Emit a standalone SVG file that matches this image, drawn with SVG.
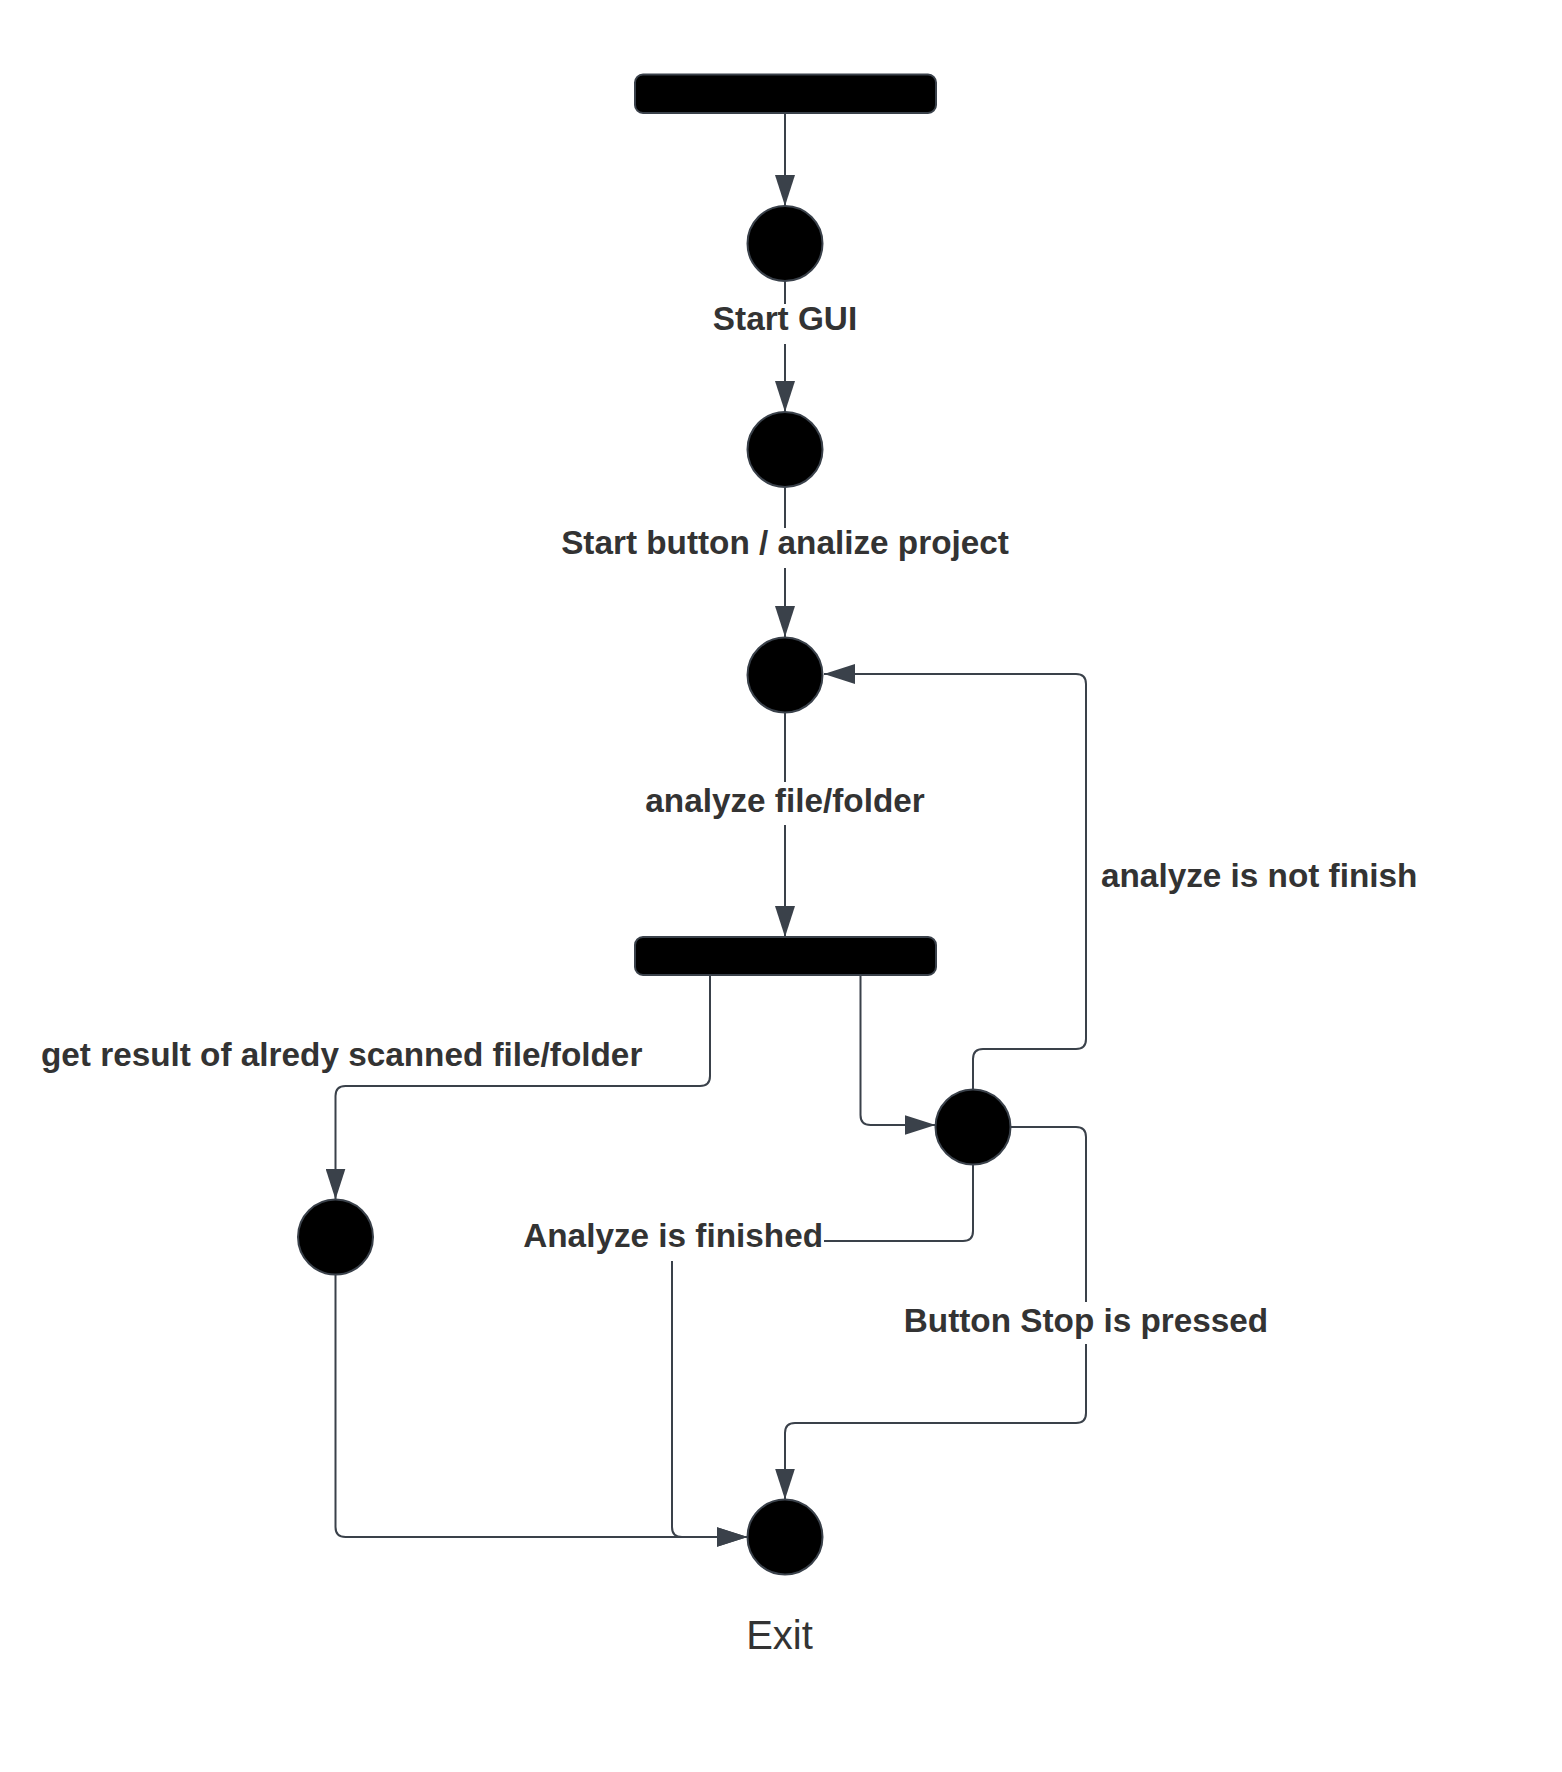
<svg xmlns="http://www.w3.org/2000/svg" width="1562" height="1772" viewBox="0 0 1562 1772">
<defs>
<marker id="arr" markerUnits="userSpaceOnUse" markerWidth="32" markerHeight="20" refX="31" refY="10" orient="auto">
<path d="M0,0 L31,10 L0,20 Z" fill="#3a414a"/>
</marker>
<style>
.node{fill:#000000;stroke:#3a414a;stroke-width:2}
.conn{fill:none;stroke:#3a414a;stroke-width:2}
.lbl{font-family:"Liberation Sans",Arial,sans-serif;font-weight:bold;font-size:33.3px;fill:#333333}
.exit{font-family:"Liberation Sans",Arial,sans-serif;font-size:40px;fill:#333333}
</style>
</defs>
<rect width="1562" height="1772" fill="#ffffff"/>
<g id="connectors">
<path class="conn" d="M785 113 V206" marker-end="url(#arr)"/>
<path class="conn" d="M785 281 V304 M785 344 V412" marker-end="url(#arr)"/>
<path class="conn" d="M785 487.5 V528 M785 568 V637" marker-end="url(#arr)"/>
<path class="conn" d="M785 712.5 V782 M785 825 V937" marker-end="url(#arr)"/>
<path class="conn" d="M710 975 V1076 Q710 1086 700 1086 H345.5 Q335.5 1086 335.5 1096 V1199.5" marker-end="url(#arr)"/>
<path class="conn" d="M860.5 975 V1115 Q860.5 1125 870.5 1125 H935.5" marker-end="url(#arr)"/>
<path class="conn" d="M973 1089.5 V1059 Q973 1049 983 1049 H1076 Q1086 1049 1086 1039 V684 Q1086 674 1076 674 H824" marker-end="url(#arr)"/>
<path class="conn" d="M1010.5 1127 H1076 Q1086 1127 1086 1137 V1302 M1086 1344 V1413 Q1086 1423 1076 1423 H795 Q785 1423 785 1433 V1499.5" marker-end="url(#arr)"/>
<path class="conn" d="M973 1164.5 V1231 Q973 1241 963 1241 H824"/>
<path class="conn" d="M672 1261 V1527 Q672 1537 682 1537 H747.5" marker-end="url(#arr)"/>
<path class="conn" d="M335.5 1275 V1527 Q335.5 1537 345.5 1537 H747.5" marker-end="url(#arr)"/>
</g>
<g id="labels">
<text class="lbl" x="785" y="330" text-anchor="middle">Start GUI</text>
<text class="lbl" x="785" y="554" text-anchor="middle">Start button / analize project</text>
<text class="lbl" x="785" y="812" text-anchor="middle">analyze file/folder</text>
<text class="lbl" x="1101" y="887">analyze is not finish</text>
<text class="lbl" x="41" y="1066">get result of alredy scanned file/folder</text>
<text class="lbl" x="823" y="1247" text-anchor="end">Analyze is finished</text>
<text class="lbl" x="1086" y="1332" text-anchor="middle">Button Stop is pressed</text>
</g>
<g id="bar-top"><rect class="node" x="635" y="74.5" width="301" height="38.5" rx="8"/></g>
<g id="state-1"><circle class="node" cx="785" cy="243.5" r="37.5"/></g>
<g id="state-2"><circle class="node" cx="785" cy="449.5" r="37.5"/></g>
<g id="state-3"><circle class="node" cx="785" cy="675" r="37.5"/></g>
<g id="bar-fork"><rect class="node" x="635" y="937" width="301" height="38" rx="8"/></g>
<g id="state-4"><circle class="node" cx="335.5" cy="1237" r="37.5"/></g>
<g id="state-5"><circle class="node" cx="973" cy="1127" r="37.5"/></g>
<g id="state-exit"><circle class="node" cx="785" cy="1537" r="37.5"/>
<text class="exit" x="779.5" y="1649" text-anchor="middle">Exit</text></g>
</svg>
